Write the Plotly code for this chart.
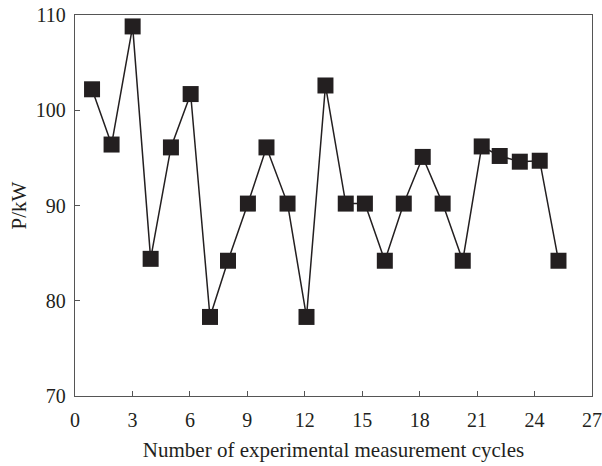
import plotly.graph_objects as go

cycles = [0.89, 1.91, 3.01, 3.95, 5.01, 6.04, 7.05, 7.99, 9.03, 10.0, 11.1, 12.09, 13.08,
          14.14, 15.14, 16.18, 17.17, 18.16, 19.2, 20.25, 21.24, 22.18, 23.23, 24.27, 25.25]
power = [102.2, 96.4, 108.8, 84.4, 96.1, 101.7, 78.3, 84.2, 90.2, 96.1, 90.2, 78.3, 102.6,
         90.2, 90.2, 84.2, 90.2, 95.1, 90.2, 84.2, 96.2, 95.2, 94.6, 94.7, 84.2]
x_ticks = [0, 3, 6, 9, 12, 15, 18, 21, 24, 27]
y_ticks = [70, 80, 90, 100, 110]

ink = "#231f20"
font_family = "Liberation Serif, DejaVu Serif, serif"

fig = go.Figure(go.Scatter(
    x=cycles, y=power, mode="lines+markers",
    line=dict(color=ink, width=1.5),
    marker=dict(symbol="square", size=16, color=ink),
    showlegend=False,
))

axis_common = dict(
    showgrid=False, zeroline=False, showline=True, linecolor="#555555", linewidth=1.3,
    mirror=True, ticks="inside", ticklen=5, tickcolor="#555555", tickwidth=1.3,
    tickfont=dict(family=font_family, size=20, color=ink), automargin=False,
)

fig.update_layout(
    width=602, height=466,
    margin=dict(l=75, r=10, t=15, b=70),
    paper_bgcolor="white", plot_bgcolor="white",
    font=dict(family=font_family, color=ink),
    xaxis=dict(range=[0, 27], tickvals=x_ticks, ticklabelstandoff=6,
               title=dict(text="Number of experimental measurement cycles",
                          font=dict(family=font_family, size=21, color=ink), standoff=12),
               **axis_common),
    yaxis=dict(range=[70, 110], tickvals=y_ticks, ticklabelstandoff=4,
               title=dict(text="P/kW", font=dict(family=font_family, size=21, color=ink),
                          standoff=3),
               **axis_common),
)

fig.write_html("out.html")
